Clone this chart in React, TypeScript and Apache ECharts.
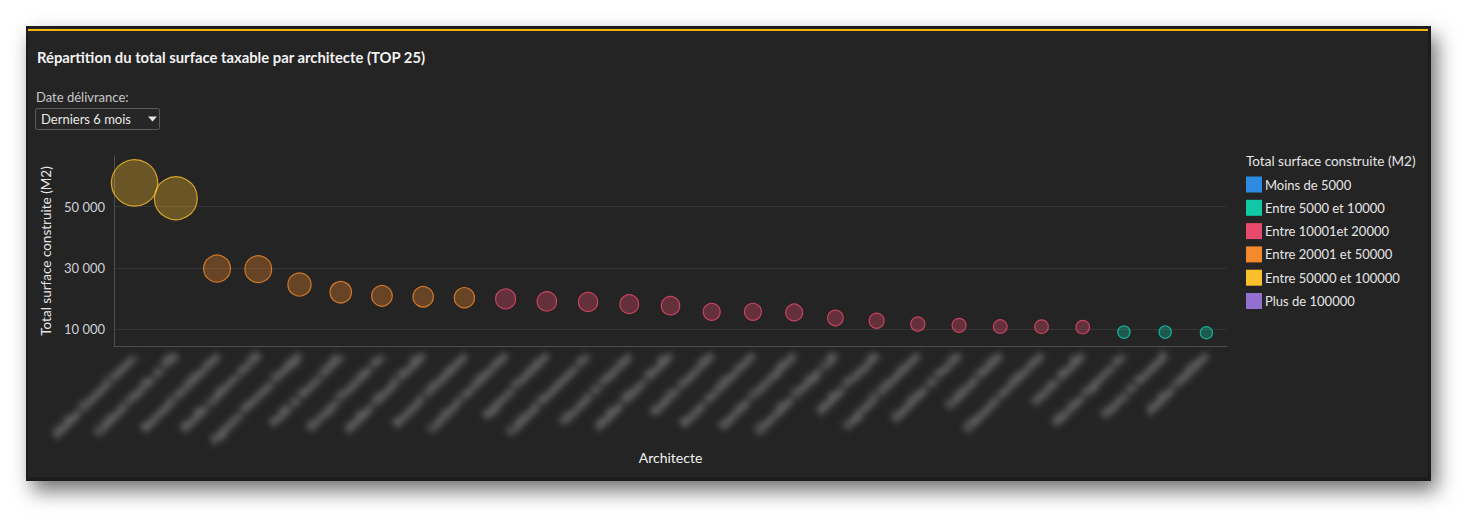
import React, { useEffect, useRef } from "react";
import * as echarts from "echarts";

const categories: string[] = [
  "Atelier Durand Assoc.",
  "Cabinet Martin & Fils",
  "Bernard Architectes",
  "Studio Lefèvre Archi",
  "Agence Moreau Design",
  "Petit & Roux SARL",
  "Groupe Fournier Ar.",
  "Atelier Girard Studio",
  "Bonnet Urbanisme",
  "Lambert Architectes",
  "Agence Fontaine",
  "Cabinet Rousseau Ar.",
  "Vincent & Mercier",
  "Atelier Blanc Studio",
  "Guérin Associés",
  "Boyer Architecture",
  "Garnier Conception",
  "Chevalier Design Lab",
  "Atelier François",
  "Legrand Urbanisme",
  "Gauthier & Perrin",
  "Cabinet Robin",
  "Clément Architectes",
  "Morin Studio",
  "Nicolas Agence Ar.",
  "Henry & Roussel",
  "Atelier Mathieu",
];

const surfaces: number[] = [
  57700, 52700, 29800, 29600, 24600, 22100, 20900, 20600, 20300, 19900, 19100,
  18900, 18200, 17700, 15700, 15700, 15500, 13700, 12800, 11700, 11300, 10900,
  10850, 10700, 9100, 9100, 8900,
];

const classNames: string[] = [
  "Moins de 5000",
  "Entre 5000 et 10000",
  "Entre 10001et 20000",
  "Entre 20001 et 50000",
  "Entre 50000 et 100000",
  "Plus de 100000",
];
const classUpper: number[] = [4999, 10000, 20000, 50000, 100000, Infinity];
const classColors: string[] = ["#2f8be2", "#10c8a6", "#e84a6d", "#f58a2c", "#fbbf2c", "#9370cf"];

const yTicks: number[] = [10000, 30000, 50000];

const FONT = "Lato, 'Noto Sans', sans-serif";

function rgba(hex: string, a: number) {
  const n = parseInt(hex.slice(1), 16);
  return `rgba(${(n >> 16) & 255},${(n >> 8) & 255},${n & 255},${a})`;
}
function fmt(v: number) {
  return String(v).replace(/\B(?=(\d{3})+(?!\d))/g, " ");
}

export default function App() {
  const ref = useRef<HTMLDivElement>(null);
  useEffect(() => {
    if (!ref.current) return;
    const chart = echarts.init(ref.current, undefined, { renderer: "svg" });
    const classOf = (v: number) => classUpper.findIndex((u) => v <= u);
    const series = classNames.map((name, ci) => ({
      type: "scatter",
      name,
      data: surfaces.map((v) => (classOf(v) === ci ? v : "-")),
      symbol: "circle",
      symbolSize: (v: number) => 6 + 0.0007 * v,
      itemStyle: {
        color: rgba(classColors[ci], 0.4),
        borderColor: classColors[ci],
        borderWidth: 1.2,
      },
      emphasis: { disabled: true },
      silent: true,
      z: 3,
    }));
    chart.setOption({
      animation: false,
      backgroundColor: "#ffffff",
      graphic: [
        {
          type: "rect",
          z: -10,
          shape: { x: 26, y: 26, width: 1405, height: 455 },
          style: {
            fill: "#1a1a1a",
            shadowBlur: 20,
            shadowOffsetX: 6,
            shadowOffsetY: 10,
            shadowColor: "rgba(0,0,0,0.55)",
          },
        },
        {
          type: "rect",
          z: -9,
          shape: { x: 28, y: 28, width: 1400, height: 449 },
          style: { fill: "#242424" },
        },
        {
          type: "rect",
          z: -8,
          shape: { x: 28, y: 29, width: 1400, height: 2 },
          style: { fill: "#f2b400" },
        },
        {
          type: "text",
          style: {
            text: "Répartition du total surface taxable par architecte (TOP 25)",
            x: 37,
            y: 57,
            fill: "#f2f2f2",
            font: `bold 14.8px ${FONT}`,
            textVerticalAlign: "middle",
          },
        },
        {
          type: "text",
          style: {
            text: "Date délivrance:",
            x: 36,
            y: 97,
            fill: "#c8c8c8",
            font: `13px ${FONT}`,
            textVerticalAlign: "middle",
          },
        },
        {
          type: "rect",
          shape: { x: 35.5, y: 108.5, width: 124, height: 21, r: 2 },
          style: { fill: "#262626", stroke: "#5c5c5c", lineWidth: 1 },
        },
        {
          type: "text",
          style: {
            text: "Derniers 6 mois",
            x: 41,
            y: 119,
            fill: "#e8e8e8",
            font: `13px ${FONT}`,
            textVerticalAlign: "middle",
          },
        },
        {
          type: "polygon",
          shape: { points: [[148, 116.5], [157, 116.5], [152.5, 121.5]] },
          style: { fill: "#e6e6e6" },
        },
        {
          type: "text",
          style: {
            text: "Total surface construite (M2)",
            x: 1246,
            y: 161,
            fill: "#e6e6e6",
            font: `13.5px ${FONT}`,
            textVerticalAlign: "middle",
          },
        },
      ],
      legend: {
        orient: "vertical",
        left: 1246,
        top: 176.5,
        padding: 0,
        itemWidth: 16,
        itemHeight: 16,
        itemGap: 7.3,
        icon: "rect",
        selectedMode: false,
        itemStyle: { opacity: 1 },
        data: classNames.map((n, i) => ({
          name: n,
          itemStyle: { color: classColors[i], borderWidth: 0, opacity: 1 },
        })),
        textStyle: { color: "#e6e6e6", fontSize: 13, fontFamily: FONT, padding: [0, 0, 0, -2] },
      },
      grid: { left: 114, top: 156, width: 1113, height: 190, outerBoundsMode: "none" },
      xAxis: {
        type: "category",
        data: categories,
        boundaryGap: true,
        name: "Architecte",
        nameLocation: "middle",
        nameGap: 75,
        nameTextStyle: { color: "#f2f2f2", fontSize: 14, fontFamily: FONT, verticalAlign: "top" },
        axisLine: { show: true, lineStyle: { color: "#4e4e4e", width: 1 } },
        axisTick: { show: false },
        splitLine: { show: false },
        axisLabel: {
          interval: 0,
          rotate: 45,
          margin: 8,
          color: "#707070",
          textBorderColor: "#5c5c5c",
          textBorderWidth: 1.5,
          fontSize: 12,
          fontWeight: "bold",
          fontFamily: FONT,
        },
      },
      yAxis: {
        type: "value",
        min: 4570,
        max: 66455,
        name: "Total surface construite (M2)",
        nameLocation: "middle",
        nameRotate: 90,
        nameGap: 60,
        nameTextStyle: { color: "#e6e6e6", fontSize: 13.5, fontFamily: FONT },
        axisLine: { show: true, lineStyle: { color: "#4e4e4e", width: 1 } },
        axisTick: { show: false, customValues: yTicks },
        axisLabel: {
          customValues: yTicks,
          formatter: (v: number) => fmt(v),
          color: "#cdd0d6",
          fontSize: 13,
          fontFamily: FONT,
          margin: 9,
        },
        splitLine: { show: true, lineStyle: { color: "#353535", width: 1 } },
      },
      series,
    });
    const names = new Set(categories);
    ref.current.querySelectorAll("text").forEach((t) => {
      if (names.has(t.textContent || "")) {
        (t as SVGTextElement).style.filter = "blur(3.2px)";
      }
    });
    return () => chart.dispose();
  }, []);
  return (
    <div
      ref={ref}
      style={{ position: "fixed", left: 0, top: 0, width: 1482, height: 532 }}
    />
  );
}
